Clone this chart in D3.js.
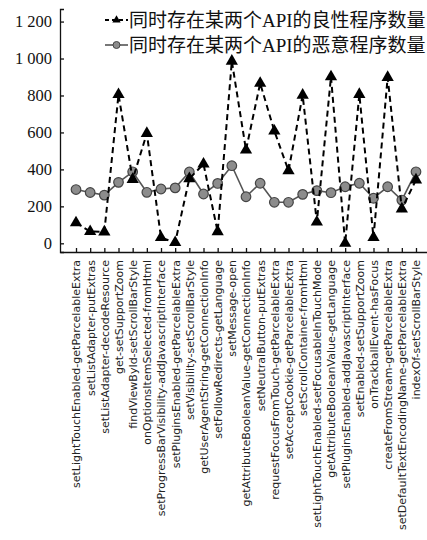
<!DOCTYPE html>
<html>
<head>
<meta charset="utf-8">
<script src="https://cdn.jsdelivr.net/npm/d3@7"></script>
<style>
  body { margin: 0; background: #fff; }
  svg { display: block; }
</style>
</head>
<body>
<script>
const width = 427;
const height = 540;

// API pairs (x categories)
const apiPairs = [
  "setLightTouchEnabled-getParcelableExtra",
  "setListAdapter-putExtras",
  "setListAdapter-decodeResource",
  "get-setSupportZoom",
  "findViewById-setScrollBarStyle",
  "onOptionsItemSelected-fromHtml",
  "setProgressBarVisibility-addJavascriptInterface",
  "setPluginsEnabled-getParcelableExtra",
  "setVisibility-setScrollBarStyle",
  "getUserAgentString-getConnectionInfo",
  "setFollowRedirects-getLanguage",
  "setMessage-open",
  "getAttributeBooleanValue-getConnectionInfo",
  "setNeutralButton-putExtras",
  "requestFocusFromTouch-getParcelableExtra",
  "setAcceptCookie-getParcelableExtra",
  "setScrollContainer-fromHtml",
  "setLightTouchEnabled-setFocusableInTouchMode",
  "getAttributeBooleanValue-getLanguage",
  "setPluginsEnabled-addJavascriptInterface",
  "setEnabled-setSupportZoom",
  "onTrackballEvent-hasFocus",
  "createFromStream-getParcelableExtra",
  "setDefaultTextEncodingName-getParcelableExtra",
  "indexOf-setScrollBarStyle"
];

// benign apps containing both APIs
const benignCounts = [111, 64, 62, 805, 346, 595, 31, 4, 350, 429, 63, 986, 505,
  866, 608, 393, 802, 115, 901, 0, 806, 31, 898, 186, 343];

// malicious apps containing both APIs
const maliciousCounts = [291, 275, 261, 330, 387, 276, 294, 300, 386, 267, 324, 420, 252,
  325, 222, 222, 265, 285, 274, 306, 325, 244, 306, 234, 387];

const yTicks = [0, 200, 400, 600, 800, 1000, 1200];
const legendNames = ["同时存在某两个API的良性程序数量", "同时存在某两个API的恶意程序数量"];

const svg = d3.select("body").append("svg").attr("width", width).attr("height", height);

const x = d3.scalePoint().domain(apiPairs).range([60, 432]).padding(1.13);
const y = d3.scaleLinear().domain([-47, 1268]).range([252, 9]);

const fmt = d3.formatLocale({decimal: ".", thousands: " ", grouping: [3], currency: ["", ""]}).format(",");

// y axis
const yAxis = svg.append("g")
  .attr("transform", "translate(60,0)")
  .call(d3.axisLeft(y).tickValues(yTicks).tickFormat(fmt).tickSize(-4).tickSizeOuter(-4).tickPadding(8));
yAxis.selectAll("text")
  .style("font-family", "'Liberation Serif', 'Times New Roman', serif")
  .style("font-size", "16.5px")
  .style("fill", "#111");
yAxis.selectAll("path, line").attr("stroke", "#111").attr("stroke-width", 1.3);

// x axis
const xAxis = svg.append("g")
  .attr("transform", "translate(0,252)")
  .call(d3.axisBottom(x).tickSize(-4).tickSizeOuter(0));
xAxis.selectAll("path, line").attr("stroke", "#111").attr("stroke-width", 1.3);
xAxis.selectAll("text")
  .attr("transform", "rotate(-90)")
  .attr("x", -8)
  .attr("y", 0)
  .attr("dy", "0.35em")
  .attr("text-anchor", "end")
  .style("font-family", "'DejaVu Sans', sans-serif")
  .style("font-size", "11px")
  .style("fill", "#222");

// malicious series
const line = d3.line().x((d, i) => x(apiPairs[i])).y(d => y(d));

svg.append("path")
  .datum(maliciousCounts)
  .attr("d", line)
  .attr("fill", "none")
  .attr("stroke", "#555")
  .attr("stroke-width", 1.6);

svg.selectAll("circle.mal")
  .data(maliciousCounts)
  .enter()
  .append("circle")
  .attr("class", "mal")
  .attr("cx", (d, i) => x(apiPairs[i]))
  .attr("cy", d => y(d))
  .attr("r", 4.8)
  .attr("fill", "#8c8c8c")
  .attr("stroke", "#444")
  .attr("stroke-width", 1.2);

// benign series
svg.append("path")
  .datum(benignCounts)
  .attr("d", line)
  .attr("fill", "none")
  .attr("stroke", "#000")
  .attr("stroke-width", 2)
  .attr("stroke-dasharray", "6,4");

const tri = d3.symbol().type(d3.symbolTriangle).size(65);
svg.selectAll("path.ben")
  .data(benignCounts)
  .enter()
  .append("path")
  .attr("class", "ben")
  .attr("d", tri)
  .attr("transform", (d, i) => `translate(${x(apiPairs[i])},${y(d)})`)
  .attr("fill", "#000");

// legend
const legend = svg.append("g");
const legendY = [20, 45];
legend.append("line")
  .attr("x1", 105).attr("x2", 128).attr("y1", legendY[0]).attr("y2", legendY[0])
  .attr("stroke", "#000").attr("stroke-width", 2).attr("stroke-dasharray", "4,3");
legend.append("path")
  .attr("d", d3.symbol().type(d3.symbolTriangle).size(30))
  .attr("transform", `translate(116.5,${legendY[0]})`);
legend.append("line")
  .attr("x1", 105).attr("x2", 128).attr("y1", legendY[1]).attr("y2", legendY[1])
  .attr("stroke", "#555").attr("stroke-width", 1.6);
legend.append("circle")
  .attr("cx", 116.5).attr("cy", legendY[1]).attr("r", 3.5)
  .attr("fill", "#8c8c8c").attr("stroke", "#444");

legend.selectAll("text")
  .data(legendNames)
  .enter()
  .append("text")
  .attr("x", 129)
  .attr("y", (d, i) => legendY[i])
  .attr("dy", "0.35em")
  .style("font-family", "'Liberation Serif', 'Noto Sans CJK SC', serif")
  .style("font-size", "19px")
  .style("fill", "#111")
  .text(d => d);
</script>
</body>
</html>
